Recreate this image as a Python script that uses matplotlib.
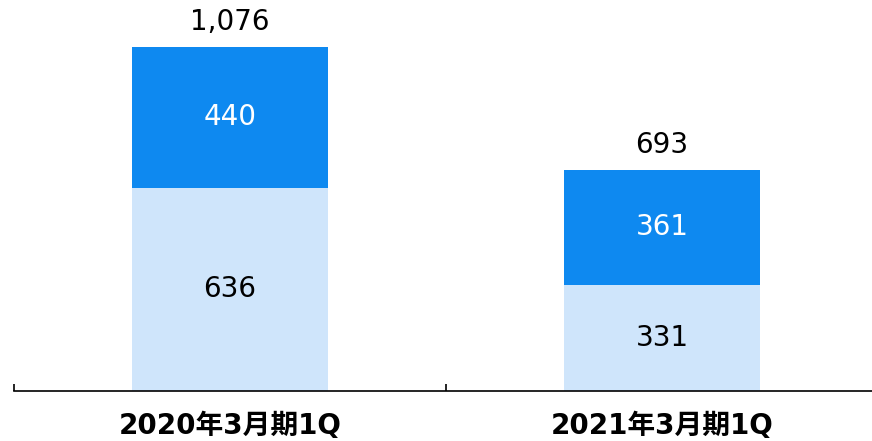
import matplotlib.pyplot as plt

# data
categories = ['2020年3月期1Q', '2021年3月期1Q']
lower = [636, 331]
upper = [440, 361]
totals = ['1,076', '693']

light = '#CFE5FB'
dark = '#0E89F0'

plt.rcParams['font.family'] = ['DejaVu Sans', 'Noto Sans CJK JP']

fig = plt.figure(figsize=(8.72, 4.41), dpi=100)
ax = fig.add_axes([14 / 872, 50 / 441, 864 / 872, 391 / 441])

x = list(range(len(categories)))
width = 0.456
ax.bar(x, lower, width, color=light)
ax.bar(x, upper, width, bottom=lower, color=dark)

for i in x:
    ax.text(i, lower[i] / 2, f'{lower[i]:,}', ha='center', va='center',
            fontsize=20, color='black')
    ax.text(i, lower[i] + upper[i] / 2, f'{upper[i]:,}', ha='center', va='center',
            fontsize=20, color='white')
    ax.annotate(totals[i], (i, lower[i] + upper[i]), xytext=(0, 18),
                textcoords='offset points', ha='center', va='center',
                fontsize=20, color='black')
    ax.annotate(categories[i], (i, 0), xytext=(0, -25),
                textcoords='offset points', ha='center', va='center',
                fontsize=20, fontweight='bold', color='black')

ax.set_xlim(-0.5, 1.5)
ax.set_ylim(0, 1223)
for s in ['top', 'right', 'left']:
    ax.spines[s].set_visible(False)
ax.spines['bottom'].set_linewidth(1.2)
ax.set_yticks([])
ax.set_xticks([-0.5, 0.5, 1.5])
ax.set_xticklabels([])
ax.tick_params(axis='x', direction='in', length=5, width=1.2)

fig.savefig('out.png', dpi=100)
